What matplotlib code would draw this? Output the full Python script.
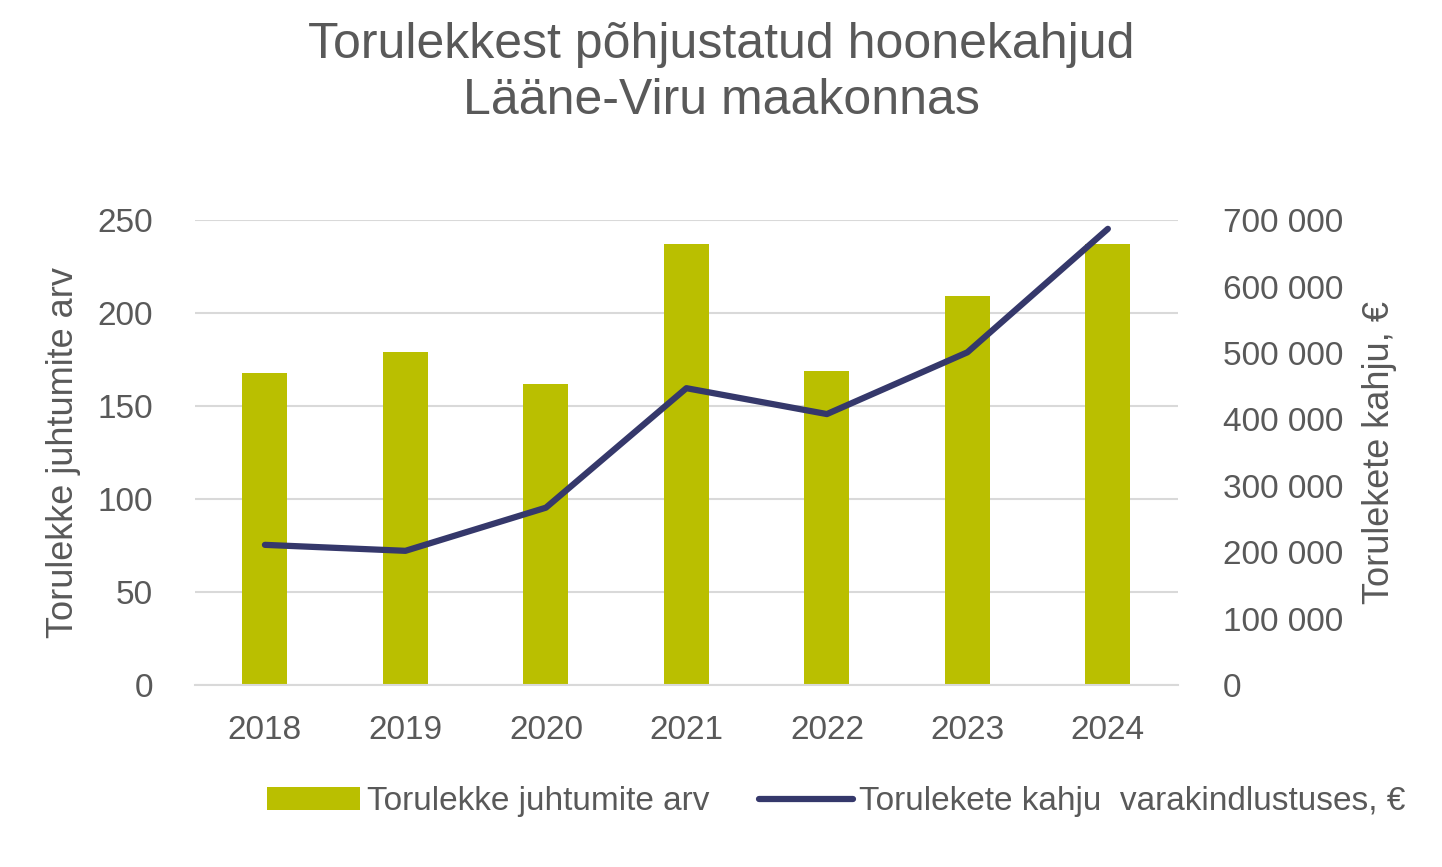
import matplotlib
matplotlib.use("Agg")
import matplotlib.pyplot as plt
from matplotlib.ticker import FuncFormatter

plt.rcParams['font.family'] = ['Liberation Sans', 'DejaVu Sans']

years = ["2018", "2019", "2020", "2021", "2022", "2023", "2024"]
cases = [168, 179, 162, 237, 169, 209, 237]
damage = [211000, 202000, 267000, 447000, 408000, 501000, 687000]

fig = plt.figure(figsize=(14.42, 8.67), dpi=100)
ax = fig.add_axes([0.135, 0.21, 0.682, 0.536])
ax2 = ax.twinx()
x = range(len(years))
b = ax.bar(x, cases, width=0.32, color="#BABF00", label="Torulekke juhtumite arv", zorder=2)
l, = ax2.plot(x, damage, color="#35386B", lw=4.5, label="Torulekete kahju  varakindlustuses, €", solid_capstyle="round")
ax.set_ylim(0, 250)
ax.set_yticks(range(0, 251, 50))
ax2.set_ylim(0, 700000)
ax2.set_yticks(range(0, 700001, 100000))
ax2.yaxis.set_major_formatter(FuncFormatter(lambda v, p: f"{int(v):,}".replace(",", " ")))
ax.set_xlim(-0.5, 6.5)
ax.set_xticks(list(x))
ax.set_xticklabels(years)
ax.grid(axis="y", color="#D9D9D9", lw=1.5, zorder=0)
for a in (ax, ax2):
    for s in a.spines.values():
        s.set_visible(False)
    a.tick_params(length=0, labelsize=24, colors="#595959", pad=14)
ax.tick_params(axis='y', pad=30)
ax2.tick_params(axis='y', pad=32)
ax.tick_params(axis='x', pad=22)
ax.spines['bottom'].set_visible(True)
ax.spines['bottom'].set_color("#D9D9D9")
ax.spines['bottom'].set_linewidth(1.5)
ax.set_ylabel("Torulekke juhtumite arv", fontsize=26, color="#595959", labelpad=12)
ax2.set_ylabel("Torulekete kahju, €", fontsize=26, color="#595959", labelpad=14)
fig.suptitle("Torulekkest põhjustatud hoonekahjud\nLääne-Viru maakonnas", fontsize=36, color="#595959", y=0.975, x=0.5, linespacing=1.3)
fig.legend([b, l], [b.get_label(), l.get_label()], loc="center", bbox_to_anchor=(0.58, 0.075), ncol=2, frameon=False, fontsize=24, labelcolor="#595959", handlelength=2.8, handletextpad=0.2, columnspacing=1.5)
fig.savefig("out.png", dpi=100)
